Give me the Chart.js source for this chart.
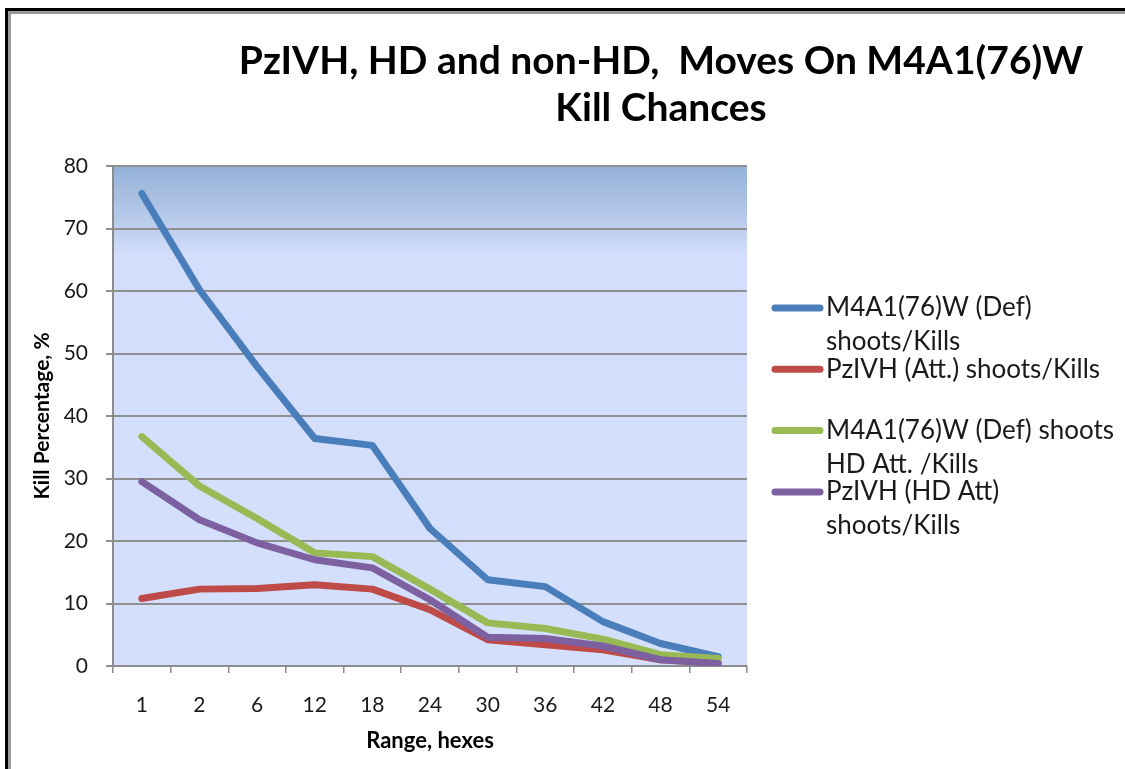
<!DOCTYPE html>
<html>
<head>
<meta charset="utf-8">
<script src="https://cdn.jsdelivr.net/npm/chart.js@4"></script>
<style>
  html, body { margin: 0; padding: 0; background: #ffffff; }
  #wrap { position: relative; width: 1125px; height: 769px; }
</style>
</head>
<body>
<div id="wrap"><canvas id="c" width="1125" height="769"></canvas></div>
<script>
// ---- Data ----
const titleLines = ["PzIVH, HD and non-HD,  Moves On M4A1(76)W", "Kill Chances"];
const categories = ["1", "2", "6", "12", "18", "24", "30", "36", "42", "48", "54"];
const yTitle = "Kill Percentage, %";
const xTitle = "Range, hexes";

const seriesNames = [
  ["M4A1(76)W (Def)", "shoots/Kills"],
  ["PzIVH (Att.) shoots/Kills"],
  ["M4A1(76)W (Def) shoots", "HD Att. /Kills"],
  ["PzIVH (HD Att)", "shoots/Kills"]
];
const m4Shoots     = [75.6, 60.2, 47.9, 36.4, 35.3, 22.0, 13.8, 12.7, 7.1, 3.6, 1.5];
const pzShoots     = [10.8, 12.3, 12.4, 13.0, 12.3, 9.0, 4.2, 3.4, 2.6, 1.0, 0.5];
const m4ShootsHD   = [36.7, 28.8, 23.6, 18.1, 17.5, 12.3, 6.9, 6.0, 4.3, 1.8, 1.2];
const pzShootsHD   = [29.5, 23.4, 19.7, 17.0, 15.7, 10.6, 4.6, 4.4, 3.2, 1.0, 0.4];
const seriesColors = ["#4A7EBB", "#BE4B48", "#98B954", "#7D60A0"];
const yTicks = [0, 10, 20, 30, 40, 50, 60, 70, 80];

const FONT = "Lato, 'Open Sans', 'DejaVu Sans', sans-serif";

const allSeries = [m4Shoots, pzShoots, m4ShootsHD, pzShootsHD];

const decorPlugin = {
  id: 'decor',
  beforeDraw(chart) {
    const ctx = chart.ctx;
    const a = chart.chartArea;
    ctx.save();
    // frame
    ctx.fillStyle = '#000000';
    ctx.fillRect(5, 8, 1120, 3);
    ctx.fillRect(5, 8, 3, 761);
    ctx.fillStyle = '#9a9a9a';
    ctx.fillRect(8, 11, 1117, 3);
    ctx.fillRect(8, 11, 3, 758);
    // plot background gradient
    const g = ctx.createLinearGradient(0, a.top, 0, a.bottom);
    const h = a.bottom - a.top;
    g.addColorStop(0, '#93B1D7');
    g.addColorStop(63 / h, '#BFCFEF');
    g.addColorStop(90 / h, '#D3DEFC');
    g.addColorStop(1, '#D4DFFC');
    ctx.fillStyle = g;
    ctx.fillRect(a.left, a.top, a.right - a.left, a.bottom - a.top);
    ctx.restore();
  },
  afterDraw(chart) {
    const ctx = chart.ctx;
    ctx.save();
    // title
    ctx.fillStyle = '#000000';
    ctx.font = "bold 39px " + FONT;
    ctx.textAlign = 'center';
    ctx.textBaseline = 'middle';
    ctx.fillText(titleLines[0], 661, 61);
    ctx.fillText(titleLines[1], 661, 108);
    // legend
    ctx.font = "26px " + FONT;
    ctx.textAlign = 'left';
    const startY = 308, itemGap = 61.3, lineGap = 34;
    chart.data.datasets.forEach((ds, i) => {
      const y = startY + i * itemGap;
      ctx.strokeStyle = ds.borderColor;
      ctx.lineWidth = 7;
      ctx.lineCap = 'round';
      ctx.beginPath();
      ctx.moveTo(775, y);
      ctx.lineTo(820, y);
      ctx.stroke();
      ctx.fillStyle = '#1a1a1a';
      seriesNames[i].forEach((t, k) => ctx.fillText(t, 826, y + k * lineGap));
    });
    ctx.restore();
  }
};

const datasets = allSeries.map((vals, i) => ({
  label: seriesNames[i].join(' '),
  data: vals,
  borderColor: seriesColors[i],
  backgroundColor: seriesColors[i],
  borderWidth: 7,
  pointRadius: 0,
  tension: 0,
  fill: false,
  borderCapStyle: 'round',
  borderJoinStyle: 'round',
  order: 4 - i
}));

new Chart(document.getElementById('c'), {
  type: 'line',
  data: { labels: categories, datasets },
  options: {
    responsive: false,
    animation: false,
    layout: { padding: { left: 0, top: 166, right: 1125 - 747, bottom: 0 } },
    plugins: {
      legend: { display: false },
      title: { display: false },
      tooltip: { enabled: false }
    },
    scales: {
      x: {
        offset: true,
        grid: {
          offset: true,
          drawOnChartArea: false,
          drawTicks: true,
          tickLength: 7,
          color: '#8c8c8c',
          lineWidth: 1.5
        },
        border: { display: true, color: '#8c8c8c', width: 2 },
        ticks: { color: '#1a1a1a', font: { family: FONT, size: 21 }, padding: 20, maxRotation: 0 },
        title: { display: true, text: xTitle, color: '#000', font: { family: FONT, size: 22, weight: 'bold' }, padding: { top: 0, bottom: 15 } },
        afterFit(scale) { scale.height = 103; }
      },
      y: {
        min: 0,
        max: 80,
        afterBuildTicks(scale) { scale.ticks = yTicks.map(v => ({ value: v })); },
        grid: {
          color: '#8f8f8f',
          lineWidth: 2,
          drawTicks: true,
          tickLength: 7
        },
        border: { display: true, color: '#8c8c8c', width: 2 },
        ticks: { color: '#1a1a1a', font: { family: FONT, size: 21 }, padding: 18 },
        title: { display: true, text: yTitle, color: '#000', font: { family: FONT, size: 21, weight: 'bold' }, padding: { top: 30, bottom: 0 } },
        afterFit(scale) { scale.width = 113; }
      }
    }
  },
  plugins: [decorPlugin]
});
</script>
</body>
</html>
